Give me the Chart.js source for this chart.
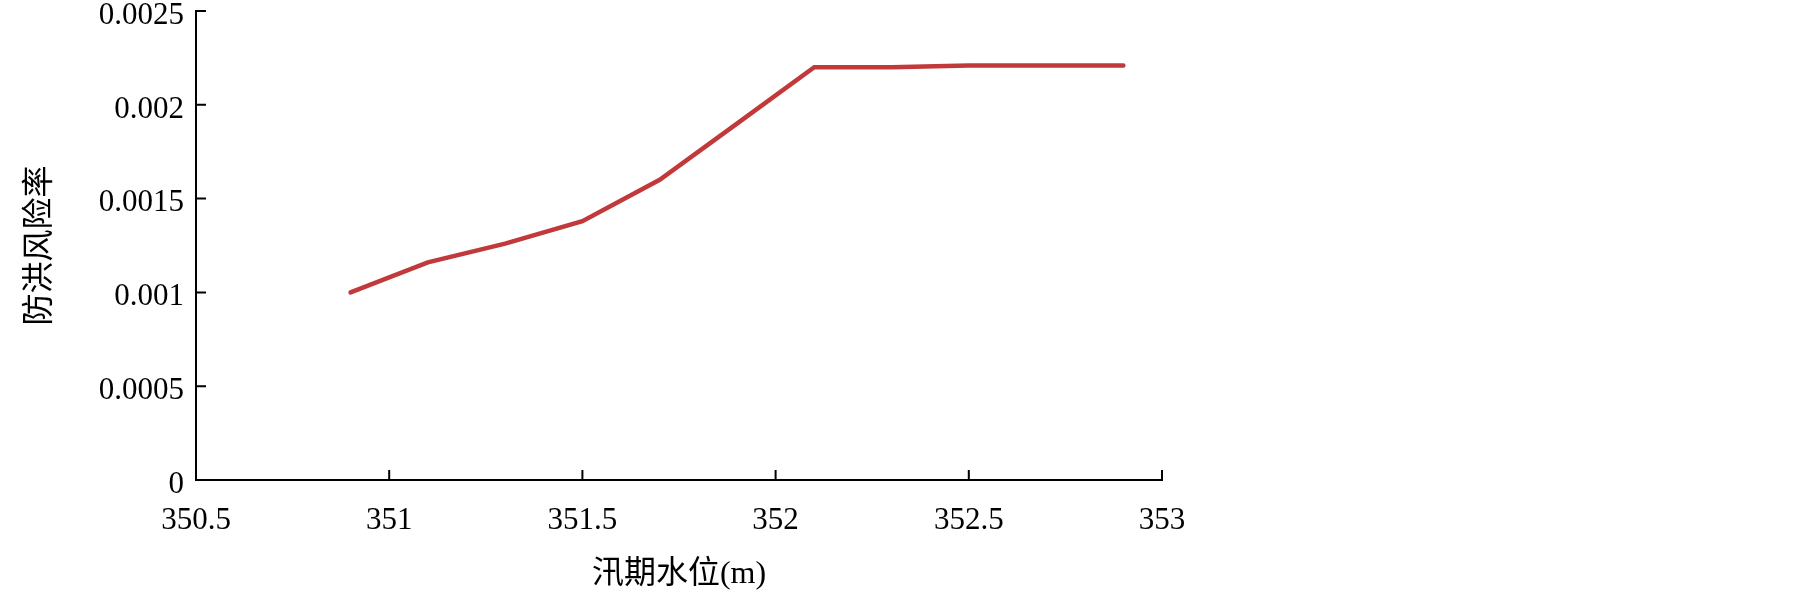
<!DOCTYPE html>
<html>
<head>
<meta charset="utf-8">
<script src="https://cdn.jsdelivr.net/npm/chart.js@4/dist/chart.umd.min.js"></script>
<style>
  html, body { margin: 0; padding: 0; background: #fff; }
  #wrap { width: 1805px; height: 597px; }
</style>
</head>
<body>
<div id="wrap"><canvas id="chart" width="1805" height="597"></canvas></div>
<script>
// water level (m) and flood risk rate
const waterLevels = [350.9, 351.1, 351.3, 351.5, 351.7, 351.9, 352.1, 352.3, 352.5, 352.7, 352.9];
const riskRates = [0.001, 0.00116, 0.00126, 0.00138, 0.0016, 0.0019, 0.0022, 0.0022, 0.00221, 0.00221, 0.00221];

const xTicks = [350.5, 351, 351.5, 352, 352.5, 353];
const xTickLabels = ['350.5', '351', '351.5', '352', '352.5', '353'];
const yTicks = [0, 0.0005, 0.001, 0.0015, 0.002, 0.0025];
const yTickLabels = ['0', '0.0005', '0.001', '0.0015', '0.002', '0.0025'];

const serif = '"Liberation Serif", "Times New Roman", "Noto Sans CJK SC", serif';

// Chart.js draws ticks outside only, so draw the short inward ticks here
const innerTicks = {
    id: 'innerTicks',
    afterDraw(chart) {
        const ctx = chart.ctx;
        const xs = chart.scales.x;
        const ys = chart.scales.y;
        ctx.save();
        ctx.strokeStyle = '#000';
        ctx.lineWidth = 2;
        ctx.beginPath();
        xs.ticks.forEach((t, i) => {
            if (i === 0) return;
            const px = xs.getPixelForTick(i);
            ctx.moveTo(px, xs.top);
            ctx.lineTo(px, xs.top - 10);
        });
        ys.ticks.forEach((t, i) => {
            if (i === 0) return;
            const py = ys.getPixelForTick(i);
            ctx.moveTo(ys.right, py);
            ctx.lineTo(ys.right + 10, py);
        });
        ctx.stroke();
        ctx.restore();
    }
};

const points = waterLevels.map((x, i) => ({ x: x, y: riskRates[i] }));

new Chart(document.getElementById('chart').getContext('2d'), {
    type: 'line',
    data: {
        datasets: [{
            data: points,
            borderColor: 'rgb(193, 57, 58)',
            borderWidth: 4.5,
            borderCapStyle: 'round',
            pointRadius: 0,
            tension: 0,
            fill: false
        }]
    },
    options: {
        responsive: false,
        animation: false,
        layout: { padding: { left: 0, right: 643, top: 11, bottom: 0 } },
        plugins: {
            legend: { display: false },
            tooltip: { enabled: false }
        },
        scales: {
            x: {
                type: 'linear',
                min: 350.5,
                max: 353,
                afterBuildTicks: (s) => { s.ticks = xTicks.map(v => ({ value: v })); },
                afterFit: (s) => { s.height = 117; s.paddingRight = 0; s.paddingLeft = 0; },
                grid: { display: false, drawTicks: false },
                border: { color: '#000', width: 2 },
                ticks: {
                    padding: 22,
                    color: '#000',
                    font: { family: serif, size: 31 },
                    callback: (v, i) => xTickLabels[i]
                },
                title: {
                    display: true,
                    text: '汛期水位(m)',
                    color: '#000',
                    font: { family: serif, size: 32 },
                    padding: { top: 0, bottom: 3 }
                }
            },
            y: {
                min: 0,
                max: 0.0025,
                afterBuildTicks: (s) => { s.ticks = yTicks.map(v => ({ value: v })); },
                afterFit: (s) => { s.width = 196; s.paddingTop = 0; s.paddingBottom = 0; },
                grid: { display: false, drawTicks: false },
                border: { color: '#000', width: 2 },
                ticks: {
                    padding: 12,
                    color: '#000',
                    // empty first line nudges the labels a few px below the tick, as in the original
                    font: { family: serif, size: 31, lineHeight: 0.3 },
                    callback: (v, i) => ['', yTickLabels[i]]
                },
                title: {
                    display: true,
                    text: '防洪风险率',
                    color: '#000',
                    font: { family: serif, size: 32 },
                    padding: { top: 21, bottom: 0 }
                }
            }
        }
    },
    plugins: [innerTicks]
});
</script>
</body>
</html>
